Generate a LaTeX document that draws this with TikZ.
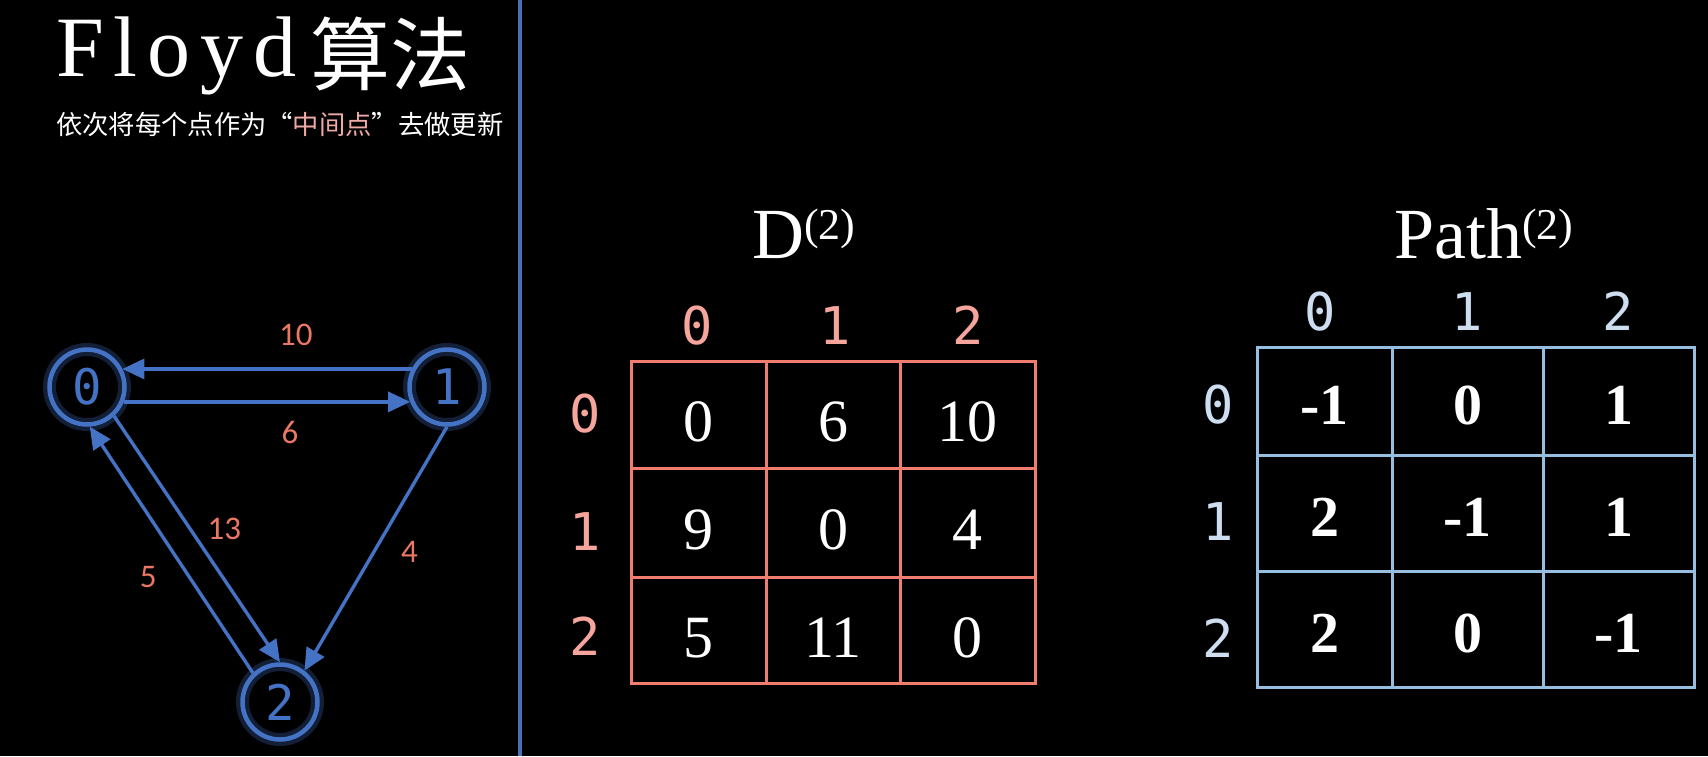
\documentclass[tikz,border=0pt]{standalone}
\usepackage{fontspec}
\setmainfont{Liberation Serif}
\newfontfamily\cjk{Noto Sans CJK SC}
\newfontfamily\monof{DejaVu Sans Mono}
\newfontfamily\lblf{Carlito}
\usetikzlibrary{arrows.meta}
\definecolor{gblue}{HTML}{4472C4}
\definecolor{sepblue}{HTML}{4A6FB5}
\definecolor{elab}{HTML}{EB7864}
\definecolor{dline}{HTML}{F07D6E}
\definecolor{dhead}{HTML}{F5A59B}
\definecolor{pline}{HTML}{96BEE1}
\definecolor{phead}{HTML}{CDDEF0}
\definecolor{hilite}{HTML}{F0AAA5}
\tikzset{
  vert/.style={circle, draw=gblue, line width=4.5pt, minimum size=75pt, inner sep=0pt,
    text=gblue, font=\monof\fontsize{49}{49}\selectfont,
    preaction={draw=gblue, line width=13pt, opacity=0.28}},
  arr/.style={draw=gblue, line width=3.4pt, -{Triangle[length=22pt,width=20pt]}},
  elabel/.style={text=elab, font=\lblf\fontsize{33}{33}\selectfont, inner sep=0pt},
  dcell/.style={draw=dline, line width=3pt, inner sep=0pt, text=white,
    font=\fontsize{60}{60}\selectfont, text height=60pt, text depth=6pt},
  pcell/.style={draw=pline, line width=3pt, inner sep=0pt, text=white,
    font=\bfseries\fontsize{58}{58}\selectfont, text height=52pt, text depth=6pt},
  dhd/.style={text=dhead, font=\monof\fontsize{52}{52}\selectfont, anchor=base, inner sep=0pt},
  phd/.style={text=phead, font=\monof\fontsize{52}{52}\selectfont, anchor=base, inner sep=0pt},
  mtitle/.style={text=white, font=\fontsize{72}{72}\selectfont, anchor=base west, inner sep=0pt}
}
\begin{document}
\begin{tikzpicture}[x=1pt,y=-1pt]
\fill[black] (0,0) rectangle (1708,756);
\useasboundingbox (0,0) rectangle (1708,756);

% separator
\coordinate (septop) at (520,0);
\coordinate (sepbot) at (520,756);
\draw[sepblue, line width=3.5pt] (septop) -- (sepbot);

% title and subtitle
\node[text=white, anchor=base west, inner sep=0pt] (title) at (56,76)
  {\fontsize{86}{86}\selectfont F\kern10pt l\kern10pt o\kern10pt y\kern10pt d\kern14pt\raisebox{-8pt}{\cjk\fontsize{80}{80}\selectfont 算法}};
\node[text=white, anchor=west, inner sep=0pt, font=\cjk\fontsize{26.3}{26.3}\selectfont] (subtitle) at (56,124)
  {依次将每个点作为“\textcolor{hilite}{中间点}”去做更新};

% graph
\node[vert] (n0) at (87,387) {0};
\node[vert] (n1) at (447,387) {1};
\node[vert] (n2) at (280,702) {2};

\draw[arr] (n1.153) -- (n0.27) node[elabel, pos=0.4, yshift=34pt] (l10) {10};
\draw[arr] (n0.-22) -- (n1.202) node[elabel, pos=0.58, yshift=-31pt] (l6) {6};
\draw[arr] (n0.-47) -- (n2.90) node[elabel, pos=0.46, xshift=34pt] (l13) {13};
\draw[arr] (n2.133) -- (n0.-86) node[elabel, pos=0.39, xshift=-41pt] (l5) {5};
\draw[arr] (n1.-90) -- (n2.52) node[elabel, pos=0.515, xshift=36pt] (l4) {4};

% D matrix
\node[mtitle] (dtitle) at (752,258) {D\raisebox{19pt}{\fontsize{44}{44}\selectfont (2)}};
\node[dhd] (dc0) at (697,344) {0};
\node[dhd] (dc1) at (835,344) {1};
\node[dhd] (dc2) at (968,344) {2};
\node[dhd] (dr0) at (585,432) {0};
\node[dhd] (dr1) at (585,550) {1};
\node[dhd] (dr2) at (585,655) {2};

\node[dcell, minimum width=135pt, minimum height=107pt] (d00) at (698.5,414.5) {0};
\node[dcell, minimum width=134pt, minimum height=107pt] (d01) at (833,414.5) {6};
\node[dcell, minimum width=135pt, minimum height=107pt] (d02) at (967.5,414.5) {10};
\node[dcell, minimum width=135pt, minimum height=109pt] (d10) at (698.5,522.5) {9};
\node[dcell, minimum width=134pt, minimum height=109pt] (d11) at (833,522.5) {0};
\node[dcell, minimum width=135pt, minimum height=109pt] (d12) at (967.5,522.5) {4};
\node[dcell, minimum width=135pt, minimum height=106pt] (d20) at (698.5,630) {5};
\node[dcell, minimum width=134pt, minimum height=106pt] (d21) at (833,630) {11};
\node[dcell, minimum width=135pt, minimum height=106pt] (d22) at (967.5,630) {0};

% Path matrix
\node[mtitle] (ptitle) at (1394,258) {Path\raisebox{19pt}{\fontsize{44}{44}\selectfont (2)}};
\node[phd] (pc0) at (1320,330) {0};
\node[phd] (pc1) at (1467,330) {1};
\node[phd] (pc2) at (1618,330) {2};
\node[phd] (pr0) at (1218,423) {0};
\node[phd] (pr1) at (1218,540) {1};
\node[phd] (pr2) at (1218,657) {2};

\node[pcell, minimum width=135pt, minimum height=108pt] (p00) at (1324.5,401) {-1};
\node[pcell, minimum width=151pt, minimum height=108pt] (p01) at (1467.5,401) {0};
\node[pcell, minimum width=151pt, minimum height=108pt] (p02) at (1618.5,401) {1};
\node[pcell, minimum width=135pt, minimum height=116pt] (p10) at (1324.5,513) {2};
\node[pcell, minimum width=151pt, minimum height=116pt] (p11) at (1467.5,513) {-1};
\node[pcell, minimum width=151pt, minimum height=116pt] (p12) at (1618.5,513) {1};
\node[pcell, minimum width=135pt, minimum height=116pt] (p20) at (1324.5,629) {2};
\node[pcell, minimum width=151pt, minimum height=116pt] (p21) at (1467.5,629) {0};
\node[pcell, minimum width=151pt, minimum height=116pt] (p22) at (1618.5,629) {-1};
\end{tikzpicture}
\end{document}
